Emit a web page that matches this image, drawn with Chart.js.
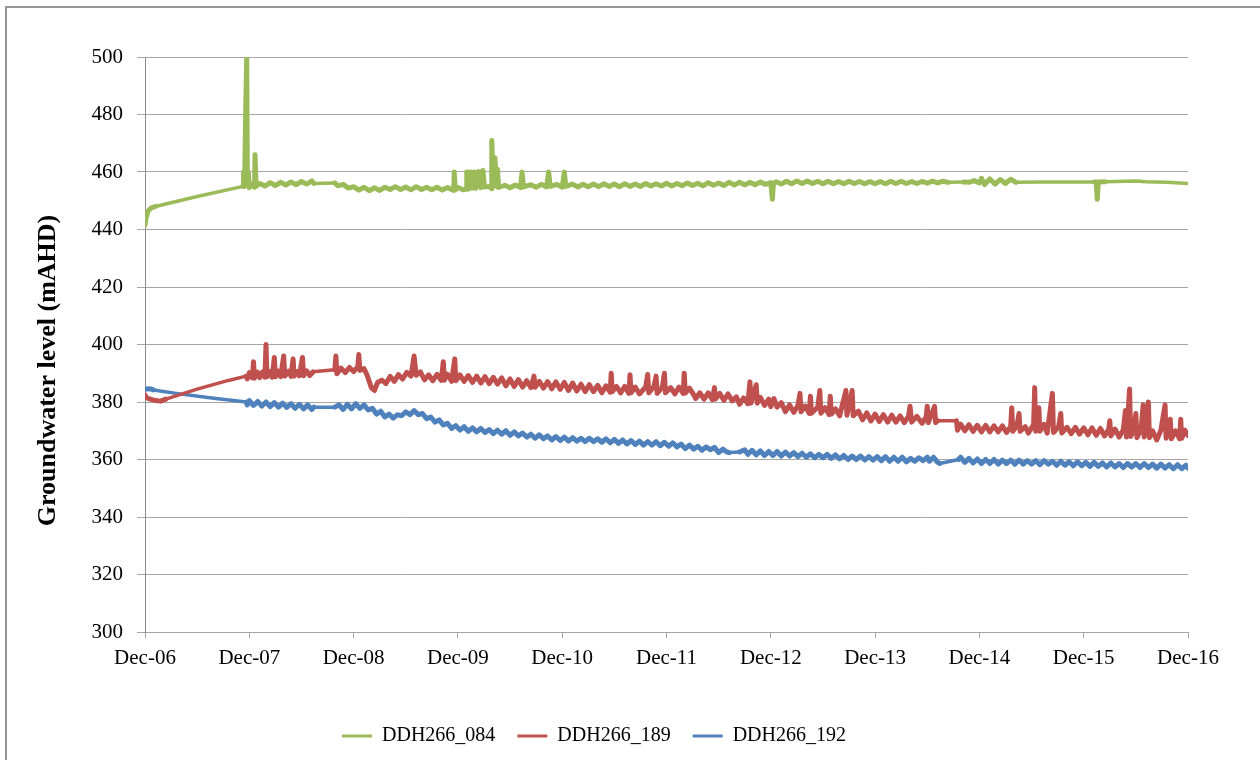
<!DOCTYPE html>
<html>
<head>
<meta charset="utf-8">
<script src="https://cdn.jsdelivr.net/npm/chart.js@4.4.1/dist/chart.umd.min.js"></script>
<style>
  html, body { margin: 0; padding: 0; background: #ffffff; }
  #frame { position: absolute; left: 5px; top: 6px; width: 1300px; height: 800px; border: 2px solid #969696; box-sizing: border-box; }
  #wrap { position: absolute; left: 0; top: 0; width: 1260px; height: 760px; }
</style>
</head>
<body>
<div id="frame"></div>
<div id="wrap"><canvas id="c" width="1260" height="760"></canvas></div>
<script>
// x values are years elapsed since Dec-2006
const xTickLabels = ["Dec-06","Dec-07","Dec-08","Dec-09","Dec-10","Dec-11","Dec-12","Dec-13","Dec-14","Dec-15","Dec-16"];
const yTicks = [300, 320, 340, 360, 380, 400, 420, 440, 460, 480, 500];
const seriesNames = ["DDH266_084", "DDH266_189", "DDH266_192"];

const ddh266_084 = [
[0,441.5],[0.01,444],[0.03,446.5],[0.06,447.5],[0.1,448],[0.5,451.5],[0.94,455],[0.945,460],[0.955,455],[0.965,481],[0.975,500],[0.982,455.5],[0.99,460],[1.0,454.5],
[1.03,455.9],[1.05,454.7],[1.055,466],[1.065,455],[1.1,456.0],[1.15,455.1],[1.2,456.3],[1.25,455.3],[1.3,456.4],[1.35,455.5],[1.4,456.5],[1.45,455.6],[1.5,456.7],[1.55,455.8],[1.6,456.9],[1.62,456],
[1.82,456.2],[1.85,455.2],[1.9,455.7],[1.95,454.4],[2.0,454.9],[2.05,453.7],[2.1,454.7],[2.15,453.5],[2.2,454.5],[2.25,453.6],[2.3,454.7],[2.35,453.9],[2.4,454.9],[2.45,453.9],[2.5,454.8],[2.55,453.8],[2.6,454.9],[2.65,453.9],[2.7,454.7],[2.75,453.8],[2.8,454.7],[2.85,453.7],[2.9,454.6],[2.95,453.7],
[2.96,453.6],[2.965,460],[2.975,453.8],[3.0,454.6],[3.05,453.8],[3.08,454.2],[3.085,460],[3.095,454],[3.1,460],[3.11,454.2],[3.13,460],[3.14,454.4],[3.16,460],[3.17,454.3],[3.2,460.2],[3.22,454.5],[3.24,460.5],[3.255,454.8],[3.3,455],[3.32,454.2],[3.325,471],[3.34,455],[3.355,465],[3.37,455],[3.38,461],[3.39,454.6],
[3.45,455.4],[3.5,454.5],[3.55,455.5],[3.6,454.6],[3.615,460],[3.63,454.8],[3.7,455.6],[3.75,454.7],[3.8,455.7],[3.85,454.8],[3.87,460],[3.885,455],[3.95,455.7],[4.0,454.7],[4.02,460],[4.035,455],
[4.1,455.8],[4.15,454.8],[4.2,455.7],[4.25,454.9],[4.3,455.8],[4.35,454.9],[4.4,455.9],[4.45,455.0],[4.5,455.8],[4.55,454.9],[4.6,455.9],[4.65,455.0],[4.7,455.8],[4.75,455.0],[4.8,456.0],[4.85,455.1],[4.9,455.9],[4.95,455.1],
[5.0,456.1],[5.05,455.1],[5.1,456.0],[5.15,455.2],[5.2,456.2],[5.25,455.3],[5.3,456.1],[5.35,455.2],[5.4,456.3],[5.45,455.4],[5.5,456.2],[5.55,455.3],[5.6,456.4],[5.65,455.5],[5.7,456.4],[5.75,455.5],[5.8,456.4],[5.85,455.6],[5.9,456.5],[5.95,455.7],
[6.0,456.3],[6.015,450.5],[6.025,456],[6.05,456.6],[6.1,455.8],[6.15,456.8],[6.2,455.9],[6.25,456.9],[6.3,456.0],[6.35,456.9],[6.4,456.0],[6.45,456.8],[6.5,455.9],[6.55,456.8],[6.6,455.9],[6.65,456.7],[6.7,455.9],[6.75,456.8],[6.8,456.0],[6.85,456.7],[6.9,455.9],[6.95,456.7],
[7.0,455.9],[7.05,456.7],[7.1,455.9],[7.15,456.8],[7.2,456.0],[7.25,456.8],[7.3,456.0],[7.35,456.7],[7.4,456.0],[7.45,456.7],[7.5,456.1],[7.55,456.8],[7.6,456.2],[7.65,456.8],[7.7,456.4],[7.85,456.5],[7.9,456.4],[7.95,457.0],
[8.0,456.2],[8.02,457.8],[8.05,455.6],[8.1,457.6],[8.15,455.8],[8.2,457.4],[8.25,456.0],[8.3,457.5],[8.35,456.4],[8.6,456.5],[9.1,456.5],[9.12,456.5],[9.13,450.5],[9.14,456.5],[9.2,456.6],[9.4,456.8],[9.5,456.9],[9.6,456.6],[9.8,456.4],[10.0,456.0]
];

const ddh266_189 = [
[0,382.5],[0.01,381.5],[0.05,381],[0.1,380.5],[0.15,380.3],[0.2,381],[0.5,384.5],[0.8,387.5],[0.97,389],
[0.98,388.0],[1.0,390.2],[1.03,388.4],[1.04,394],[1.05,388.3],[1.08,390.4],[1.1,388.5],[1.13,390.5],[1.15,388.6],[1.16,400],[1.17,388.8],[1.2,390.6],[1.22,388.6],[1.24,395.5],[1.25,388.8],[1.28,390.7],[1.3,388.8],[1.33,396],[1.34,389.0],[1.38,390.7],[1.4,388.9],[1.42,395],[1.43,389.0],[1.46,390.6],[1.48,389.1],[1.51,395.5],[1.52,389.1],[1.55,390.8],[1.58,389.2],[1.61,390.5],
[1.82,391.2],[1.83,396],[1.84,389.8],[1.88,391.8],[1.92,390.2],[1.96,392.0],[2.0,390.6],[2.04,392.2],[2.05,396.5],[2.06,391],[2.1,391.6],[2.13,389.3],[2.17,385],[2.2,384.0],[2.23,386.8],[2.27,387.6],[2.31,386.4],[2.35,388.9],[2.39,387.2],[2.43,389.5],[2.47,388.0],[2.51,390.3],[2.55,389.0],[2.58,396],[2.6,389.3],[2.64,390.5],[2.68,387.7],[2.72,389.4],[2.76,387.4],[2.8,389.6],[2.84,387.5],[2.86,394],[2.87,387.6],[2.9,389.7],[2.94,387.2],[2.97,395],[2.98,387.4],
[3.02,389.4],[3.06,387.2],[3.1,389.2],[3.14,386.8],[3.18,389.0],[3.22,386.6],[3.26,388.8],[3.3,386.4],[3.34,388.6],[3.38,386.2],[3.42,388.4],[3.46,385.6],[3.5,388.0],[3.54,385.4],[3.58,387.8],[3.62,385.2],[3.66,387.4],[3.7,385.0],[3.73,389],[3.74,385.1],[3.78,387.2],[3.82,384.8],[3.86,387.1],[3.9,384.6],[3.94,387.0],[3.98,384.4],
[4.02,386.8],[4.06,384.0],[4.1,386.6],[4.14,383.8],[4.18,386.2],[4.22,383.6],[4.26,386.0],[4.3,383.6],[4.34,385.8],[4.38,383.2],[4.42,385.6],[4.46,383.4],[4.47,390],[4.48,383.6],[4.52,385.4],[4.56,383.2],[4.6,385.4],[4.64,383.0],[4.65,389.5],[4.66,383.2],[4.7,385.2],[4.74,382.8],[4.8,385.2],[4.82,389.6],[4.83,383.2],[4.88,385.4],[4.9,389],[4.91,383.0],[4.96,385.2],[4.98,390],[4.99,383.2],
[5.04,385.0],[5.08,382.8],[5.12,385.2],[5.16,383.0],[5.17,390],[5.18,383.1],[5.22,384.8],[5.26,382.6],[5.28,381.2],[5.32,383.2],[5.36,381.0],[5.4,383.2],[5.44,380.8],[5.46,385],[5.47,381.0],[5.51,383.0],[5.55,380.6],[5.59,382.8],[5.63,380.4],[5.67,381.8],[5.7,379.2],[5.74,381.4],[5.78,379.4],[5.8,387],[5.81,379.6],[5.86,386],[5.87,379.6],[5.9,381.6],[5.94,378.8],[5.98,381.0],
[6.0,378.4],[6.03,381.2],[6.06,378.2],[6.1,379.8],[6.14,376.6],[6.18,379.0],[6.22,376.4],[6.26,378.8],[6.28,383],[6.29,376.6],[6.33,378.6],[6.37,376.0],[6.38,382],[6.39,376.1],[6.45,378.2],[6.47,384],[6.48,376.1],[6.52,378.0],[6.56,375.6],[6.57,382],[6.58,375.8],[6.62,377.6],[6.66,375.2],[6.72,384],[6.73,375.4],[6.78,384],[6.79,375.2],[6.84,376.8],[6.88,373.8],[6.92,376.2],[6.96,373.4],
[7.0,375.8],[7.04,373.2],[7.08,375.6],[7.12,373.0],[7.16,375.4],[7.2,373.0],[7.24,375.2],[7.28,372.8],[7.32,375.0],[7.335,378.5],[7.35,373.0],[7.4,375.0],[7.45,372.6],[7.49,374.8],[7.5,378.5],[7.51,372.8],[7.57,378.5],[7.58,372.8],[7.6,373.5],[7.78,373.5],
[7.79,370.2],[7.82,372.3],[7.86,370.0],[7.9,372.1],[7.94,369.8],[7.98,371.9],[8.02,369.6],[8.06,371.9],[8.1,369.6],[8.14,371.7],[8.18,369.6],[8.22,371.7],[8.26,369.4],[8.3,371.5],[8.31,378],[8.32,369.8],[8.36,371.8],[8.38,376],[8.39,369.8],[8.44,371.4],[8.47,369.2],[8.52,372.2],[8.53,385],[8.54,369.8],[8.57,378],[8.58,369.8],[8.62,372.2],[8.65,369.2],[8.7,383],[8.71,369.4],[8.76,371.4],[8.78,376],[8.79,369.2],[8.84,371.2],[8.88,369.0],[8.92,371.2],[8.96,368.8],
[9.0,371.0],[9.04,368.6],[9.08,371.0],[9.12,368.4],[9.16,370.8],[9.2,368.2],[9.24,370.6],[9.25,373.5],[9.26,368.2],[9.3,370.6],[9.34,367.8],[9.38,370.4],[9.4,377],[9.41,367.8],[9.44,384.5],[9.45,368.0],[9.48,370.4],[9.5,376],[9.51,367.6],[9.55,370.4],[9.57,379],[9.58,367.8],[9.62,380],[9.63,367.6],[9.66,370.0],[9.7,366.8],[9.74,370.2],[9.78,379],[9.79,367.4],[9.83,374],[9.84,367.2],[9.88,370.0],[9.92,367.2],[9.93,374],[9.94,367.4],[9.97,370.2],[10.0,368.4]
];

const ddh266_192 = [
[0,384.5],[0.05,384.6],[0.08,384.2],[0.3,383],[0.6,381.6],[0.97,380],
[0.98,379.0],[1.0,380.5],[1.04,378.8],[1.08,380.2],[1.12,378.6],[1.16,380.0],[1.2,378.4],[1.24,379.8],[1.28,378.2],[1.32,379.6],[1.36,378.1],[1.4,379.4],[1.44,377.8],[1.48,379.2],[1.52,377.6],[1.56,379.0],[1.6,377.4],[1.62,378.2],
[1.82,378.2],[1.86,379.0],[1.9,377.4],[1.94,379.2],[1.98,377.6],[2.02,379.4],[2.06,377.8],[2.1,379.0],[2.14,377.2],[2.18,377.8],[2.22,375.8],[2.26,376.8],[2.3,374.8],[2.34,375.8],[2.38,374.4],[2.42,375.6],[2.46,375.2],[2.5,376.6],[2.54,375.6],[2.58,377.0],[2.62,375.6],[2.66,376.0],[2.7,374.2],[2.74,374.8],[2.78,373.0],[2.82,373.8],[2.86,372.0],[2.9,372.6],[2.94,370.8],[2.98,371.8],
[3.02,370.2],[3.06,371.4],[3.1,369.8],[3.14,371.0],[3.18,369.6],[3.22,370.8],[3.26,369.4],[3.3,370.4],[3.34,369.0],[3.38,370.2],[3.42,368.8],[3.46,370.0],[3.5,368.4],[3.54,369.6],[3.58,368.2],[3.62,369.2],[3.66,367.8],[3.7,368.8],[3.74,367.4],[3.78,368.6],[3.82,367.2],[3.86,368.2],[3.9,366.8],[3.94,368.0],[3.98,366.6],
[4.02,367.8],[4.06,366.4],[4.1,367.6],[4.14,366.4],[4.18,367.4],[4.22,366.2],[4.26,367.4],[4.3,366.2],[4.34,367.2],[4.38,366.0],[4.42,367.2],[4.46,365.8],[4.5,367.0],[4.54,365.6],[4.58,366.8],[4.62,365.4],[4.66,366.6],[4.7,365.2],[4.74,366.4],[4.78,365.0],[4.82,366.2],[4.86,365.0],[4.9,366.2],[4.94,364.8],[4.98,366.0],
[5.02,364.6],[5.06,365.8],[5.1,364.4],[5.14,365.4],[5.18,363.8],[5.22,365.0],[5.26,363.6],[5.3,364.6],[5.34,363.2],[5.38,364.4],[5.42,363.4],[5.46,364.2],[5.5,362.4],[5.54,363.6],[5.58,362.6],[5.6,362.4],[5.7,362.6],[5.75,363.4],[5.78,361.8],[5.82,363.2],[5.86,361.6],[5.9,363.0],[5.94,361.4],[5.98,362.8],
[6.02,361.4],[6.06,362.8],[6.1,361.2],[6.14,362.6],[6.18,361.2],[6.22,362.4],[6.26,361.0],[6.3,362.2],[6.34,360.8],[6.38,362.0],[6.42,360.6],[6.46,361.8],[6.5,360.6],[6.54,361.8],[6.58,360.4],[6.62,361.6],[6.66,360.2],[6.7,361.4],[6.74,360.0],[6.78,361.2],[6.82,360.0],[6.86,361.2],[6.9,359.8],[6.94,361.0],[6.98,359.8],
[7.02,361.0],[7.06,359.6],[7.1,361.0],[7.14,359.4],[7.18,360.8],[7.22,359.4],[7.26,360.8],[7.3,359.2],[7.34,360.4],[7.38,359.4],[7.42,360.6],[7.46,359.6],[7.5,360.8],[7.52,359.4],[7.56,360.8],[7.6,359.0],[7.62,358.6],[7.8,360.0],[7.82,360.8],[7.86,359.0],[7.9,360.4],[7.94,358.8],[7.98,360.2],
[8.02,358.6],[8.06,360.0],[8.1,358.6],[8.14,360.0],[8.18,358.4],[8.22,359.8],[8.26,358.6],[8.3,359.8],[8.34,358.4],[8.38,359.8],[8.42,358.4],[8.46,359.6],[8.5,358.4],[8.54,359.6],[8.58,358.2],[8.62,359.6],[8.66,358.4],[8.7,359.4],[8.74,358.0],[8.78,359.4],[8.82,358.0],[8.86,359.2],[8.9,357.8],[8.94,359.2],[8.98,357.8],
[9.02,359.0],[9.06,357.6],[9.1,359.0],[9.14,357.6],[9.18,358.8],[9.22,357.4],[9.26,358.8],[9.3,357.4],[9.34,358.6],[9.38,357.2],[9.42,358.6],[9.46,357.4],[9.5,358.6],[9.54,357.2],[9.58,358.6],[9.62,357.2],[9.66,358.4],[9.7,357.0],[9.74,358.4],[9.78,357.0],[9.82,358.2],[9.86,356.8],[9.9,358.2],[9.94,356.8],[9.98,358.0],[10.0,357.0]
];

const seriesColors = ["#9bbb59", "#c0504d", "#4f81bd"];
const seriesData = [ddh266_084, ddh266_189, ddh266_192];

const FONT = "'Liberation Serif', 'Times New Roman', serif";

// dense logger stretches are drawn a little heavier than the long straight joins
const segWidth = (ctx) => (ctx.p1.parsed.x - ctx.p0.parsed.x > 0.09 ? 3.5 : 5);

const datasets = seriesData.map((arr, i) => ({
  label: seriesNames[i],
  data: arr.map(p => ({ x: p[0], y: p[1] })),
  borderColor: seriesColors[i],
  backgroundColor: seriesColors[i],
  borderWidth: 4,
  segment: { borderWidth: segWidth },
  pointRadius: 0,
  tension: 0,
  borderJoinStyle: 'round',
  borderCapStyle: 'round'
}));

new Chart(document.getElementById('c'), {
  type: 'line',
  data: { datasets: datasets },
  options: {
    responsive: false,
    animation: false,
    devicePixelRatio: 1,
    layout: { padding: { top: 57, right: 72, bottom: 4, left: 0 } },
    plugins: {
      tooltip: { enabled: false },
      legend: {
        position: 'bottom',
        labels: {
          font: { family: FONT, size: 20 },
          color: '#000000',
          boxWidth: 30,
          boxHeight: 3,
          padding: 22,
          generateLabels: (chart) => chart.data.datasets.map((ds, i) => ({
            text: ds.label,
            fillStyle: ds.borderColor,
            strokeStyle: ds.borderColor,
            lineWidth: 0,
            hidden: false,
            datasetIndex: i,
            fontColor: '#000000'
          }))
        }
      }
    },
    scales: {
      x: {
        type: 'linear',
        min: 0,
        max: 10,
        afterBuildTicks: (s) => { s.ticks = xTickLabels.map((_, i) => ({ value: i })); },
        afterFit: (s) => { s.height = 72; },
        ticks: {
          callback: (v) => xTickLabels[Math.round(v)],
          font: { family: FONT, size: 21 },
          color: '#000000',
          padding: 8,
          maxRotation: 0,
          autoSkip: false
        },
        grid: { drawOnChartArea: false, drawTicks: true, tickLength: 6, color: '#a6a6a6', lineWidth: 1 },
        border: { display: true, color: '#a6a6a6', width: 1 }
      },
      y: {
        type: 'linear',
        min: 300,
        max: 500,
        afterBuildTicks: (s) => { s.ticks = yTicks.map(v => ({ value: v })); },
        afterFit: (s) => { s.width = 145; },
        ticks: {
          font: { family: FONT, size: 21 },
          color: '#000000',
          padding: 14
        },
        grid: { color: '#a6a6a6', lineWidth: 1, tickLength: 8 },
        border: { display: true, color: '#8c8c8c', width: 1 },
        title: {
          display: true,
          text: 'Groundwater level (mAHD)        ',
          font: { family: FONT, size: 26, weight: 'bold' },
          color: '#000000',
          padding: { top: 33, bottom: 0 }
        }
      }
    }
  }
});
</script>
</body>
</html>
